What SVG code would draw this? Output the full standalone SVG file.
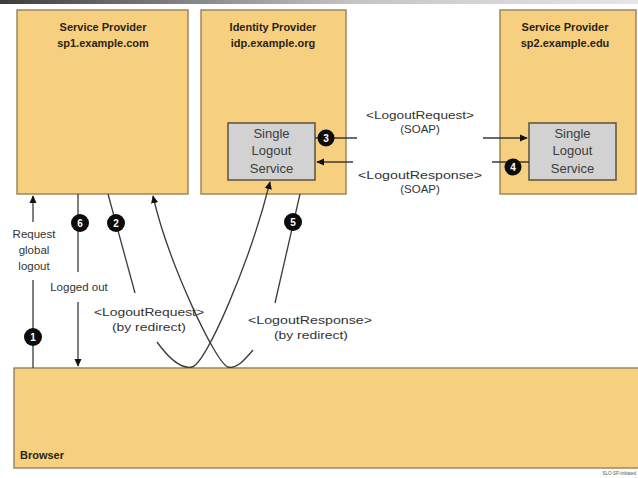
<svg xmlns="http://www.w3.org/2000/svg" width="638" height="478" viewBox="0 0 638 478">
  <defs>
    <linearGradient id="topbar" x1="0" y1="0" x2="1" y2="0">
      <stop offset="0" stop-color="#3c3c3c"/>
      <stop offset="0.55" stop-color="#c4c4c4"/>
      <stop offset="1" stop-color="#e6e6e6"/>
    </linearGradient>
    <marker id="arrow" viewBox="0 0 10 10" refX="9" refY="5" markerWidth="8" markerHeight="8" markerUnits="userSpaceOnUse" orient="auto">
      <path d="M0,0.5 L10,5 L0,9.5 Z" fill="#111"/>
    </marker>
  </defs>
  <style>
    .party { fill: #f6d07f; stroke: #9c8762; stroke-width: 1.5; }
    .slo { fill: #d2d2d2; stroke: #5a5040; stroke-width: 1.5; }
    .title { font-family: "Liberation Sans", Arial, sans-serif; font-size: 11px; font-weight: bold; fill: #2a2418; text-anchor: middle; }
    .slotext { font-family: "Liberation Sans", Arial, sans-serif; font-size: 13px; fill: #3c3c3c; text-anchor: middle; }
    .label { font-family: "Liberation Sans", Arial, sans-serif; font-size: 11.5px; fill: #333333; text-anchor: middle; }
    .flow { fill: none; stroke: #3a3a3a; stroke-width: 1.3; }
    .step circle { fill: #0c0c0c; }
    .step text { font-family: "Liberation Sans", Arial, sans-serif; font-size: 10px; font-weight: bold; fill: #ffffff; text-anchor: middle; }
  </style>

  <rect width="638" height="478" fill="#ffffff"/>
  <rect x="0" y="0" width="638" height="4" fill="url(#topbar)"/>

  <!-- Service Provider sp1 -->
  <g id="sp1">
    <rect class="party" x="17" y="10" width="171" height="184"/>
    <text class="title" x="103" y="31">Service Provider</text>
    <text class="title" x="103" y="47">sp1.example.com</text>
  </g>

  <!-- Identity Provider -->
  <g id="idp">
    <rect class="party" x="201" y="10" width="145" height="184"/>
    <text class="title" x="273" y="31">Identity Provider</text>
    <text class="title" x="273" y="47">idp.example.org</text>
  </g>
  <g id="idp-slo">
    <rect class="slo" x="228" y="123" width="87" height="57"/>
    <text class="slotext" x="271.5" y="138">Single</text>
    <text class="slotext" x="271.5" y="155">Logout</text>
    <text class="slotext" x="271.5" y="173">Service</text>
  </g>

  <!-- Service Provider sp2 -->
  <g id="sp2">
    <rect class="party" x="500" y="10" width="136" height="184"/>
    <text class="title" x="565" y="31">Service Provider</text>
    <text class="title" x="565" y="47">sp2.example.edu</text>
  </g>
  <g id="sp2-slo">
    <rect class="slo" x="529" y="123" width="87" height="57"/>
    <text class="slotext" x="572.5" y="138">Single</text>
    <text class="slotext" x="572.5" y="155">Logout</text>
    <text class="slotext" x="572.5" y="173">Service</text>
  </g>

  <!-- Browser -->
  <g id="browser">
    <rect class="party" x="14" y="368" width="630" height="100"/>
    <text class="title" x="20" y="459" style="text-anchor:start">Browser</text>
  </g>

  <!-- Message flows -->
  <g id="connectors">
    <!-- 1: request global logout -->
    <path class="flow" d="M33,368 V280" />
    <path class="flow" d="M33,222 V196" marker-end="url(#arrow)"/>
    <!-- 6: logged out -->
    <path class="flow" d="M78,194 V272"/>
    <path class="flow" d="M78,302 V366" marker-end="url(#arrow)"/>
    <!-- 2: logout request by redirect -->
    <path class="flow" d="M108,194 L135,293"/>
    <path class="flow" d="M157,342 C170,360 182,369 192,367 C206,364 250,262 270,182" marker-end="url(#arrow)"/>
    <!-- 5: logout response by redirect -->
    <path class="flow" d="M300,194 L275,303"/>
    <path class="flow" d="M253,350 C243,362 236,369 228,367 C216,364 168,262 153,196" marker-end="url(#arrow)"/>
    <!-- 3: SOAP logout request -->
    <path class="flow" d="M315,138 H357"/>
    <path class="flow" d="M483,138 H527" marker-end="url(#arrow)"/>
    <!-- 4: SOAP logout response -->
    <path class="flow" d="M529,162 H492"/>
    <path class="flow" d="M353,162 H317" marker-end="url(#arrow)"/>
  </g>

  <g id="labels">
    <text class="label" x="34" y="238">Request</text>
    <text class="label" x="34" y="254">global</text>
    <text class="label" x="34" y="270">logout</text>
    <text class="label" x="79" y="291">Logged out</text>
    <text class="label" x="149" y="316" textLength="110" lengthAdjust="spacingAndGlyphs">&lt;LogoutRequest&gt;</text>
    <text class="label" x="149" y="331" textLength="74" lengthAdjust="spacingAndGlyphs">(by redirect)</text>
    <text class="label" x="310" y="324" textLength="124" lengthAdjust="spacingAndGlyphs">&lt;LogoutResponse&gt;</text>
    <text class="label" x="311" y="339" textLength="74" lengthAdjust="spacingAndGlyphs">(by redirect)</text>
    <text class="label" x="420" y="119" textLength="108" lengthAdjust="spacingAndGlyphs">&lt;LogoutRequest&gt;</text>
    <text class="label" x="420" y="133">(SOAP)</text>
    <text class="label" x="420" y="179" textLength="124" lengthAdjust="spacingAndGlyphs">&lt;LogoutResponse&gt;</text>
    <text class="label" x="420" y="193">(SOAP)</text>
  </g>

  <!-- Step numbers -->
  <g id="steps" class="step">
    <circle cx="33" cy="337" r="9"/><text x="33" y="341">1</text>
    <circle cx="116" cy="223" r="9"/><text x="116" y="227">2</text>
    <circle cx="326" cy="138" r="8.5"/><text x="326" y="142">3</text>
    <circle cx="513" cy="167" r="8.5"/><text x="513" y="171">4</text>
    <circle cx="293" cy="222" r="9"/><text x="293" y="226">5</text>
    <circle cx="80" cy="223" r="9"/><text x="80" y="227">6</text>
  </g>

  <text x="636" y="475" font-family="Liberation Sans, Arial, sans-serif" font-size="4.5" fill="#555" text-anchor="end">SLO-SP-initiated</text>
</svg>
